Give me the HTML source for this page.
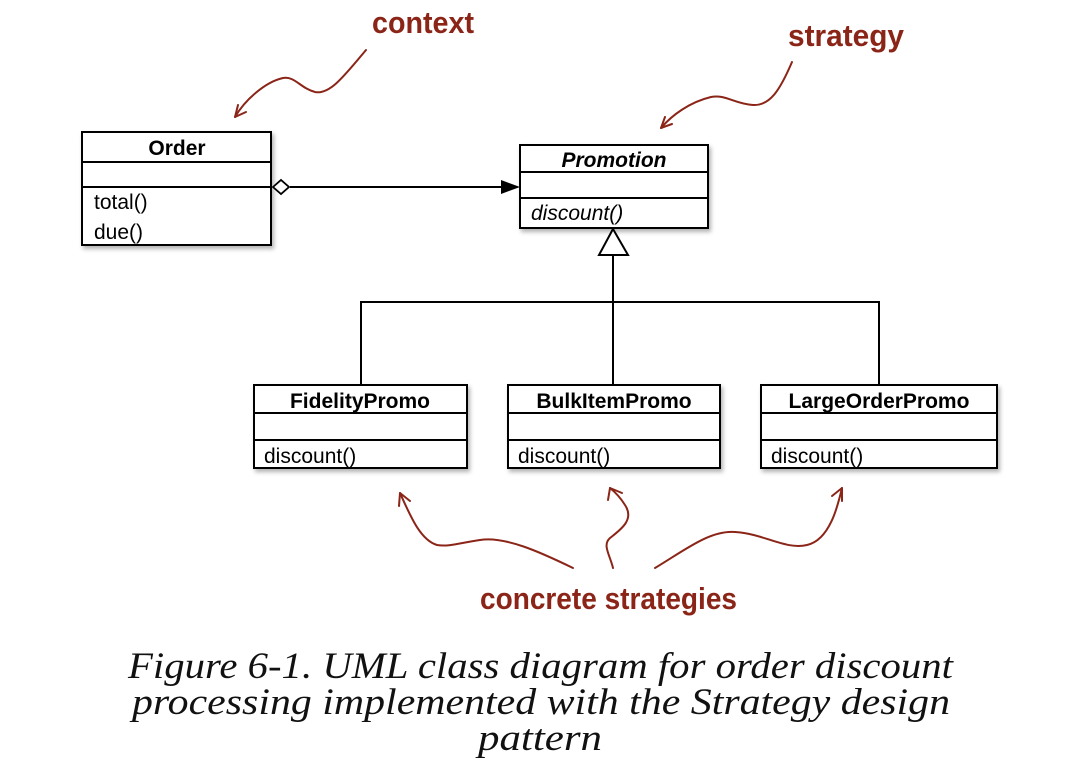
<!DOCTYPE html>
<html><head><meta charset="utf-8"><style>
html,body{margin:0;padding:0;background:#fff;width:1074px;height:765px;overflow:hidden}
svg{display:block}
.b{font-family:"Liberation Sans",Arial,sans-serif;font-weight:bold;font-size:21px}
.n{font-family:"Liberation Sans",Arial,sans-serif;font-size:21px}
.h{font-family:"Liberation Sans",sans-serif;font-weight:bold;font-size:31px;fill:#8a2518}
.cap{font-family:"Liberation Serif",serif;font-style:italic;font-size:37px;fill:#111}
</style></head><body>
<svg width="1074" height="765" viewBox="0 0 1074 765">
<defs><filter id="s" x="-5%" y="-5%" width="115%" height="120%"><feDropShadow dx="2" dy="3" stdDeviation="2" flood-color="#000" flood-opacity="0.3"/></filter></defs>
<g stroke="#000" stroke-width="2" fill="#fff">
<rect x="82" y="132" width="189" height="113" filter="url(#s)"/>
<line x1="82" y1="162" x2="271" y2="162"/><line x1="82" y1="187" x2="271" y2="187"/>
<rect x="520" y="145" width="188" height="83" filter="url(#s)"/>
<line x1="520" y1="172" x2="708" y2="172"/><line x1="520" y1="198" x2="708" y2="198"/>
<rect x="254" y="385" width="213" height="83" filter="url(#s)"/>
<line x1="254" y1="413" x2="467" y2="413"/><line x1="254" y1="440" x2="467" y2="440"/>
<rect x="508" y="385" width="212" height="83" filter="url(#s)"/>
<line x1="508" y1="413" x2="720" y2="413"/><line x1="508" y1="440" x2="720" y2="440"/>
<rect x="761" y="385" width="236" height="83" filter="url(#s)"/>
<line x1="761" y1="413" x2="997" y2="413"/><line x1="761" y1="440" x2="997" y2="440"/>
<line x1="290" y1="187" x2="502" y2="187"/>
<polygon points="273,187 281,180 289,187 281,194" stroke-width="1.8"/>
<polygon points="520,187 501,180 501,194" fill="#000" stroke="none"/>
<polygon points="613,229 599,255 628,255"/>
<polyline points="613,255 613,302" fill="none"/>
<polyline points="361,385 361,302 879,302 879,385" fill="none"/>
<line x1="613" y1="302" x2="613" y2="385"/>
</g>
<text class="b" x="177" y="155" text-anchor="middle">Order</text>
<text class="n" x="94" y="209">total()</text>
<text class="n" x="94" y="239">due()</text>
<text class="b" x="614" y="167" text-anchor="middle" font-style="italic">Promotion</text>
<text class="n" x="531" y="220" font-style="italic">discount()</text>
<text class="b" x="360" y="408" text-anchor="middle">FidelityPromo</text>
<text class="n" x="264" y="463">discount()</text>
<text class="b" x="614" y="408" text-anchor="middle">BulkItemPromo</text>
<text class="n" x="518" y="463">discount()</text>
<text class="b" x="879" y="408" text-anchor="middle">LargeOrderPromo</text>
<text class="n" x="771" y="463">discount()</text>
<g stroke="#8a2518" stroke-width="2" fill="none" stroke-linecap="round">
<path d="M366,50 C345,75 330,95 315,92 C300,88 295,76 283,78 C265,82 245,100 235,117"/>
<path d="M235,117 l3,-12 M235,117 l11,-5"/>
<path d="M792,62 C780,90 770,106 753,105 C735,104 725,94 711,97 C690,102 672,115 661,128"/>
<path d="M661,128 l4,-11 M661,128 l11,-4"/>
<path d="M573,568 C540,552 505,536 480,540 C460,543 448,547 437,545 C420,540 410,515 400,493"/>
<path d="M400,493 l-1,13 M400,493 l10,8"/>
<path d="M613,568 C610,555 602,545 610,538 C620,530 635,520 625,505 C620,497 615,492 610,488"/>
<path d="M610,488 l-2,12 M610,488 l12,5"/>
<path d="M655,568 C685,550 710,530 735,532 C765,534 785,550 807,545 C830,540 838,505 842,488"/>
<path d="M842,488 l-10,8 M842,488 l0,13"/>
</g>
<text class="h" x="372" y="33" textLength="102" lengthAdjust="spacingAndGlyphs">context</text>
<text class="h" x="788" y="46" textLength="116" lengthAdjust="spacingAndGlyphs">strategy</text>
<text class="h" x="480" y="609" textLength="257" lengthAdjust="spacingAndGlyphs">concrete strategies</text>
<text class="cap" x="128" y="678" textLength="825" lengthAdjust="spacingAndGlyphs">Figure 6-1. UML class diagram for order discount</text>
<text class="cap" x="132" y="714" textLength="818" lengthAdjust="spacingAndGlyphs">processing implemented with the Strategy design</text>
<text class="cap" x="478" y="750" textLength="124" lengthAdjust="spacingAndGlyphs">pattern</text>
</svg>
</body></html>
